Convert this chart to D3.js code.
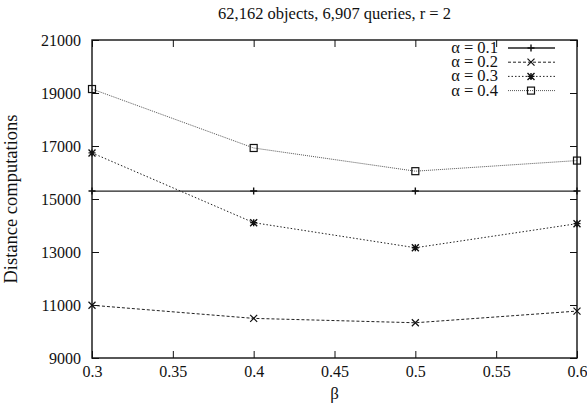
<!DOCTYPE html>
<html><head><meta charset="utf-8">
<script src="https://cdn.jsdelivr.net/npm/d3@7"></script>
<style>body{margin:0;background:#fff}svg{display:block}text{font-family:"Liberation Serif","Times New Roman",serif;fill:#111}</style>
</head><body><svg id="c" width="587" height="417"></svg>
<script>
const betas = [0.3, 0.4, 0.5, 0.6];
const alpha01 = [15300, 15300, 15300, 15300];
const alpha02 = [10990, 10495, 10330, 10770];
const alpha03 = [16740, 14107, 13161, 14069];
const alpha04 = [19150, 16925, 16050, 16450];
const seriesNames = ["α = 0.1", "α = 0.2", "α = 0.3", "α = 0.4"];
const xTicks = [0.3, 0.35, 0.4, 0.45, 0.5, 0.55, 0.6];
const yTicks = [9000, 11000, 13000, 15000, 17000, 19000, 21000];
const title = "62,162 objects, 6,907 queries, r = 2";
const xLabel = "β";
const yLabel = "Distance computations";

const series = [alpha01, alpha02, alpha03, alpha04];
const styles = [
  {dash: null, color: "#222", marker: "plus"},
  {dash: "3,2", color: "#222", marker: "cross"},
  {dash: "1.5,2", color: "#222", marker: "star"},
  {dash: "1,1", color: "#555", marker: "square"}
];

const svg = d3.select("#c");
const L = 92, R = 577, T = 40, B = 358;
const x = d3.scaleLinear().domain([0.3, 0.6]).range([L, R]);
const y = d3.scaleLinear().domain([9000, 21000]).range([B, T]);

svg.append("text").attr("x", (L + R) / 2).attr("y", 19).attr("text-anchor", "middle")
  .style("font-size", "16.5px").text(title);

const tl = 7;
const gB = svg.append("g").attr("transform", `translate(0,${B})`)
  .call(d3.axisBottom(x).tickValues(xTicks).tickFormat(d3.format("")).tickSizeInner(-tl).tickSizeOuter(0).tickPadding(8));
const gT = svg.append("g").attr("transform", `translate(0,${T})`)
  .call(d3.axisTop(x).tickValues(xTicks).tickFormat("").tickSizeInner(-tl).tickSizeOuter(0));
const gL = svg.append("g").attr("transform", `translate(${L},0)`)
  .call(d3.axisLeft(y).tickValues(yTicks).tickFormat(d3.format("d")).tickSizeInner(-tl).tickSizeOuter(0).tickPadding(11));
const gR = svg.append("g").attr("transform", `translate(${R},0)`)
  .call(d3.axisRight(y).tickValues(yTicks).tickFormat("").tickSizeInner(-tl).tickSizeOuter(0));
[gB, gT, gL, gR].forEach(g => {
  g.select(".domain").remove();
  g.selectAll("line").attr("stroke", "#111");
  g.selectAll("text").attr("font-family", null).style("font-size", "16px").attr("fill", "#111");
});

function marker(g, type, cx, cy) {
  const s = 3.5;
  if (type === "plus") {
    g.append("path").attr("d", `M${cx - s},${cy}H${cx + s}M${cx},${cy - s}V${cy + s}`).attr("stroke", "#111").attr("stroke-width", 1.4);
  } else if (type === "cross") {
    g.append("path").attr("d", `M${cx - s},${cy - s}L${cx + s},${cy + s}M${cx - s},${cy + s}L${cx + s},${cy - s}`).attr("stroke", "#111").attr("stroke-width", 1.2);
  } else if (type === "star") {
    g.append("path").attr("d", `M${cx - s},${cy - s}L${cx + s},${cy + s}M${cx - s},${cy + s}L${cx + s},${cy - s}M${cx - s},${cy}H${cx + s}M${cx},${cy - s}V${cy + s}`).attr("stroke", "#111").attr("stroke-width", 1.4);
  } else {
    g.append("rect").attr("x", cx - s).attr("y", cy - s).attr("width", 2 * s).attr("height", 2 * s).attr("fill", "none").attr("stroke", "#111").attr("stroke-width", 1.2);
  }
}

const line = d3.line().x((d, i) => x(betas[i])).y(d => y(d));
series.forEach((vals, k) => {
  const st = styles[k];
  const g = svg.append("g");
  g.append("path").datum(vals).attr("d", line).attr("fill", "none").attr("stroke", st.color)
    .attr("stroke-width", k === 0 ? 1.3 : 1).attr("stroke-dasharray", st.dash);
  vals.forEach((v, i) => marker(g, st.marker, x(betas[i]), y(v)));
});

svg.append("rect").attr("x", L).attr("y", T).attr("width", R - L).attr("height", B - T)
  .attr("fill", "none").attr("stroke", "#111").attr("stroke-width", 1.4);

const lg = svg.append("g");
seriesNames.forEach((n, k) => {
  const yy = 48 + k * 14.2;
  const st = styles[k];
  lg.append("text").attr("x", 498).attr("y", yy + 5).attr("text-anchor", "end")
    .style("font-family", "'Liberation Serif', serif").style("font-size", "16.5px").text(n);
  lg.append("line").attr("x1", 508).attr("x2", 555).attr("y1", yy).attr("y2", yy)
    .attr("stroke", st.color).attr("stroke-width", k === 0 ? 1.3 : 1).attr("stroke-dasharray", st.dash);
  marker(lg, st.marker, 531, yy);
});

svg.append("text").attr("x", (L + R) / 2).attr("y", 399).attr("text-anchor", "middle").style("font-size", "17px").text(xLabel);
svg.append("text").attr("transform", `translate(17,${(T + B) / 2}) rotate(-90)`).attr("text-anchor", "middle")
  .style("font-size", "18.5px").text(yLabel);
</script></body></html>
